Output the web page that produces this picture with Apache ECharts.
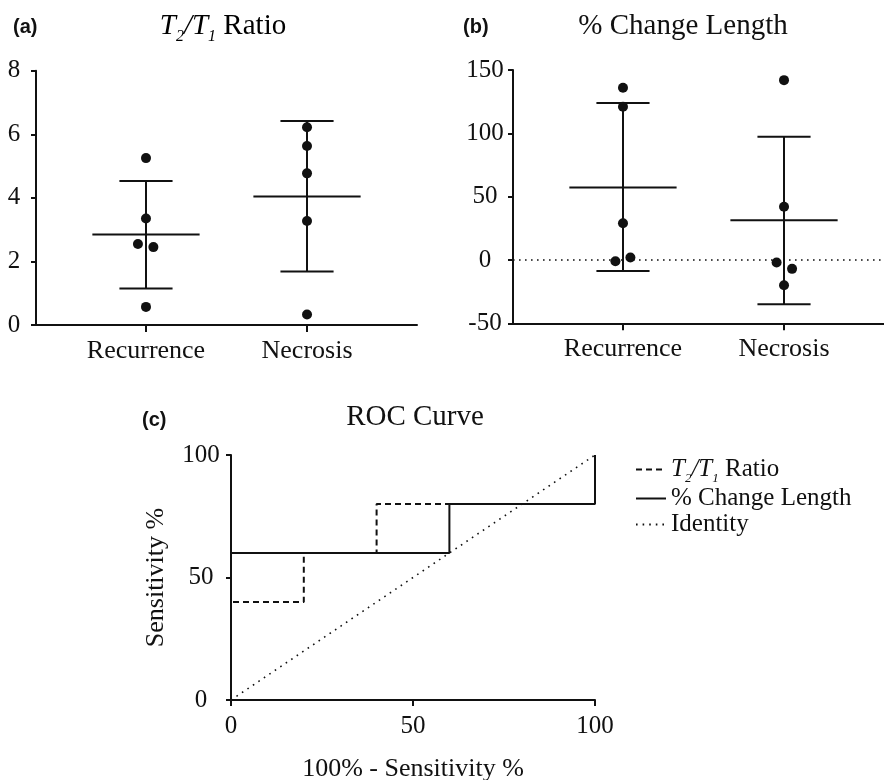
<!DOCTYPE html>
<html>
<head>
<meta charset="utf-8">
<script src="https://cdn.jsdelivr.net/npm/echarts@6/dist/echarts.min.js"></script>
<style>html,body{margin:0;padding:0;background:#fff}#c{width:884px;height:780px}</style>
</head>
<body>
<div id="c"></div>
<script>
// ---- data ----
const categories = ['Recurrence', 'Necrosis'];
const ratioTicks = [0, 2, 4, 6, 8];
const lengthTicks = [-50, 0, 50, 100, 150];
const rocTicks = [0, 50, 100];

const ratioRecurrence = [5.25, 3.35, 2.55, 2.45, 0.57];
const ratioRecurrenceJitter = [0, 0, -0.05, 0.046, 0];
const ratioNecrosis = [6.22, 5.63, 4.77, 3.27, 0.33];
const ratioNecrosisJitter = [0, 0, 0, 0, 0];
const ratioMean = [2.85, 4.04];
const ratioLower = [1.15, 1.68];
const ratioUpper = [4.53, 6.42];

const lengthRecurrence = [136, 121, 29, -1, 2];
const lengthRecurrenceJitter = [0, 0, 0, -0.047, 0.046];
const lengthNecrosis = [142, 42, -2, -7, -20];
const lengthNecrosisJitter = [0, 0, -0.046, 0.05, 0];
const lengthMean = [57.3, 31.3];
const lengthLower = [-8.7, -35];
const lengthUpper = [123.9, 97.3];

const rocRatio = [[0, 0], [0, 40], [20, 40], [20, 60], [40, 60], [40, 80], [60, 80], [100, 80], [100, 100]];
const rocLength = [[0, 0], [0, 60], [60, 60], [60, 80], [100, 80], [100, 100]];
const rocIdentity = [[0, 0], [100, 100]];
const rocNames = ['T2/T1 Ratio', '% Change Length', 'Identity'];

// ---- build ----
const FONT = "'Liberation Serif', 'Times New Roman', serif";
const INK = '#111';
const catPos = categories.map((c, i) => i + 1);

function pts(vals, jit, idx) {
  return vals.map((v, k) => [catPos[idx] + jit[k], v]);
}
function barData(mean, lo, hi) {
  return mean.map((m, i) => [catPos[i], m, lo[i], hi[i]]);
}
function renderBars(params, api) {
  const x = api.value(0), m = api.value(1), lo = api.value(2), hi = api.value(3);
  const mh = 0.333, ch = 0.165;
  const a = api.coord([x - mh, m]), b = api.coord([x + mh, m]);
  const t = api.coord([x, hi]), u = api.coord([x, lo]);
  const c1 = api.coord([x - ch, hi]), c2 = api.coord([x + ch, hi]);
  const d1 = api.coord([x - ch, lo]), d2 = api.coord([x + ch, lo]);
  const st = { stroke: INK, lineWidth: 2 };
  return { type: 'group', children: [
    { type: 'line', shape: { x1: a[0], y1: a[1], x2: b[0], y2: b[1] }, style: st },
    { type: 'line', shape: { x1: t[0], y1: t[1], x2: u[0], y2: u[1] }, style: st },
    { type: 'line', shape: { x1: c1[0], y1: c1[1], x2: c2[0], y2: c2[1] }, style: st },
    { type: 'line', shape: { x1: d1[0], y1: d1[1], x2: d2[0], y2: d2[1] }, style: st }
  ]};
}

const axisLine = { show: true, onZero: false, lineStyle: { color: INK, width: 2 } };
const axisTick = { show: true, length: 6, lineStyle: { color: INK, width: 2 } };

function catXAxis(gridIndex) {
  return {
    type: 'value', gridIndex, min: 0.317, max: 2.683,
    splitLine: { show: false }, axisLine,
    axisTick: Object.assign({}, axisTick, { customValues: catPos, length: 7 }),
    axisLabel: { customValues: catPos, formatter: v => categories[Math.round(v) - 1] || '',
      fontFamily: FONT, fontSize: 26, color: INK, margin: 13 }
  };
}
function valYAxis(gridIndex, ticks, margin) {
  return {
    type: 'value', gridIndex, min: ticks[0], max: ticks[ticks.length - 1],
    interval: ticks[1] - ticks[0],
    splitLine: { show: false }, axisLine, axisTick: Object.assign({}, axisTick, { length: 5 }),
    axisLabel: { fontFamily: FONT, fontSize: 25, color: INK, margin, align: 'center' }
  };
}

const titleRich = {
  i: { fontFamily: FONT, fontStyle: 'italic', fontSize: 29, color: INK },
  s: { fontFamily: FONT, fontStyle: 'italic', fontSize: 16, color: INK, verticalAlign: 'bottom', padding: [0, 0, -4, 0] },
  n: { fontFamily: FONT, fontSize: 29, color: INK }
};
const legendRich = {
  i: { fontFamily: FONT, fontStyle: 'italic', fontSize: 25, color: INK, lineHeight: 25 },
  s: { fontFamily: FONT, fontStyle: 'italic', fontSize: 13, color: INK, verticalAlign: 'bottom', padding: [0, 0, -3, 0], lineHeight: 25 },
  n: { fontFamily: FONT, fontSize: 25, color: INK, lineHeight: 25 }
};
function ratioRich(name) {
  return '{i|T}{s|2}{i|/T}{s|1}{n| Ratio}';
}

const chart = echarts.init(document.getElementById('c'), null, { renderer: 'canvas' });
chart.setOption({
  animation: false,
  backgroundColor: '#fff',
  grid: [
    { left: 36, top: 70.7, width: 381, height: 254.3, outerBoundsMode: 'none' },
    { left: 513, top: 70, width: 381, height: 253.3, outerBoundsMode: 'none' },
    { left: 231, top: 455, width: 364, height: 245, outerBoundsMode: 'none' }
  ],
  xAxis: [
    catXAxis(0),
    catXAxis(1),
    { type: 'value', gridIndex: 2, min: 0, max: 100, interval: 50, splitLine: { show: false },
      axisLine, axisTick: Object.assign({}, axisTick, { length: 6 }),
      axisLabel: { fontFamily: FONT, fontSize: 25, color: INK, margin: 14 },
      name: '100% - Sensitivity %', nameLocation: 'middle', nameGap: 56,
      nameTextStyle: { fontFamily: FONT, fontSize: 26, color: INK } }
  ],
  yAxis: [
    valYAxis(0, ratioTicks, 22),
    valYAxis(1, lengthTicks, 28),
    Object.assign(valYAxis(2, rocTicks, 30), {
      name: 'Sensitivity %', nameLocation: 'middle', nameGap: 62, nameRotate: 90,
      nameTextStyle: { fontFamily: FONT, fontSize: 26, color: INK } })
  ],
  legend: {
    data: rocNames, orient: 'vertical', left: 635, top: 457, itemGap: 1, padding: 0,
    itemWidth: 30, itemHeight: 14,
    itemStyle: { opacity: 0 },
    formatter: n => n === rocNames[0] ? ratioRich(n) : '{n|' + n + '}',
    textStyle: { fontFamily: FONT, fontSize: 25, color: INK, rich: legendRich }
  },
  graphic: [
    { type: 'text', x: 13, y: 27, style: { text: '(a)', font: "bold 20px 'Liberation Sans', Arial, sans-serif", fill: INK, textVerticalAlign: 'middle' } },
    { type: 'text', x: 463, y: 27, style: { text: '(b)', font: "bold 20px 'Liberation Sans', Arial, sans-serif", fill: INK, textVerticalAlign: 'middle' } },
    { type: 'text', x: 142, y: 420, style: { text: '(c)', font: "bold 20px 'Liberation Sans', Arial, sans-serif", fill: INK, textVerticalAlign: 'middle' } },
    { type: 'text', x: 223, y: 26, style: { text: ratioRich(), rich: titleRich, textAlign: 'center', textVerticalAlign: 'middle' } },
    { type: 'text', x: 683, y: 26, style: { text: '% Change Length', font: "29px " + FONT, fill: INK, textAlign: 'center', textVerticalAlign: 'middle' } },
    { type: 'text', x: 415, y: 417, style: { text: 'ROC Curve', font: "29px " + FONT, fill: INK, textAlign: 'center', textVerticalAlign: 'middle' } }
  ],
  series: [
    { type: 'custom', xAxisIndex: 0, yAxisIndex: 0, renderItem: renderBars, data: barData(ratioMean, ratioLower, ratioUpper), z: 2 },
    { type: 'scatter', xAxisIndex: 0, yAxisIndex: 0, symbolSize: 10, itemStyle: { color: INK, opacity: 1 }, z: 3,
      data: pts(ratioRecurrence, ratioRecurrenceJitter, 0).concat(pts(ratioNecrosis, ratioNecrosisJitter, 1)) },
    { type: 'custom', xAxisIndex: 1, yAxisIndex: 1, renderItem: renderBars, data: barData(lengthMean, lengthLower, lengthUpper), z: 2,
      markLine: { silent: true, symbol: 'none', label: { show: false },
        lineStyle: { color: INK, width: 1.6, type: [1.6, 4.4] }, data: [{ yAxis: 0 }] } },
    { type: 'scatter', xAxisIndex: 1, yAxisIndex: 1, symbolSize: 10, itemStyle: { color: INK, opacity: 1 }, z: 3,
      data: pts(lengthRecurrence, lengthRecurrenceJitter, 0).concat(pts(lengthNecrosis, lengthNecrosisJitter, 1)) },
    { name: rocNames[0], type: 'line', xAxisIndex: 2, yAxisIndex: 2, data: rocRatio, symbol: 'none',
      lineStyle: { color: INK, width: 2, type: [6, 4] }, itemStyle: { color: INK }, z: 2 },
    { name: rocNames[1], type: 'line', xAxisIndex: 2, yAxisIndex: 2, data: rocLength, symbol: 'none',
      lineStyle: { color: INK, width: 2, type: 'solid' }, itemStyle: { color: INK }, z: 3 },
    { name: rocNames[2], type: 'line', xAxisIndex: 2, yAxisIndex: 2, data: rocIdentity, symbol: 'none',
      lineStyle: { color: INK, width: 1.6, type: [1.6, 5] }, itemStyle: { color: INK }, z: 1 }
  ]
});
</script>
</body>
</html>
